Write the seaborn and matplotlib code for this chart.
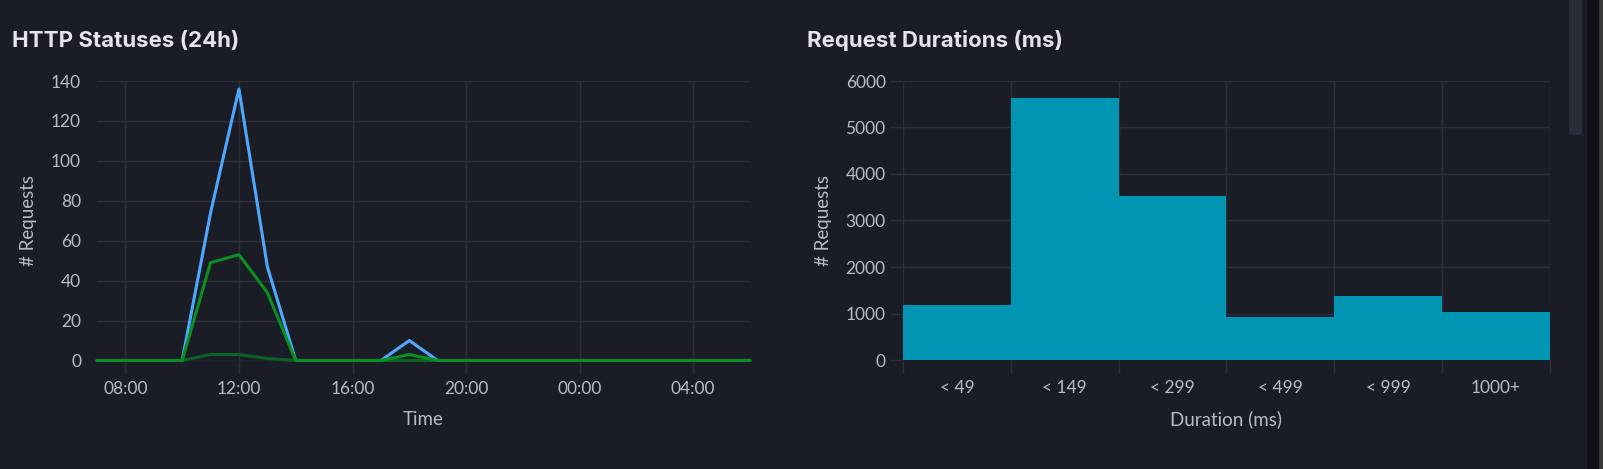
import numpy as np
import pandas as pd
import matplotlib
matplotlib.use("Agg")
import matplotlib.pyplot as plt
import seaborn as sns
from matplotlib.patches import FancyBboxPatch, Rectangle

# ---------------- data ----------------
hours = ["07:00", "08:00", "09:00", "10:00", "11:00", "12:00", "13:00", "14:00",
         "15:00", "16:00", "17:00", "18:00", "19:00", "20:00", "21:00", "22:00",
         "23:00", "00:00", "01:00", "02:00", "03:00", "04:00", "05:00", "06:00"]
total_requests = [0, 0, 0, 0, 74, 136, 47, 0, 0, 0, 0, 10, 0, 0, 0, 0, 0, 0, 0, 0, 0, 0, 0, 0]
status_2xx = [0, 0, 0, 0, 49, 53, 34, 0, 0, 0, 0, 3, 0, 0, 0, 0, 0, 0, 0, 0, 0, 0, 0, 0]
status_4xx = [0, 0, 0, 0, 3, 3, 1, 0, 0, 0, 0, 0, 0, 0, 0, 0, 0, 0, 0, 0, 0, 0, 0, 0]
time_tick_labels = ["08:00", "12:00", "16:00", "20:00", "00:00", "04:00"]

duration_bins = ["< 49", "< 149", "< 299", "< 499", "< 999", "1000+"]
duration_counts = [1180, 5640, 3530, 920, 1380, 1030]

# ---------------- style ----------------
BG = "#1b1d26"
GRID = "#2c2f3b"
TICK_TXT = "#b9bcc6"
TITLE_TXT = "#e4e5ec"
BLUE = "#4fa8ff"
GREEN = "#0a9020"
DKGREEN = "#0c6424"
BAR = "#0095b2"

sns.set_theme(style="dark")
plt.rcParams["font.family"] = ["Lato", "DejaVu Sans"]

fig = plt.figure(figsize=(16.03, 4.69), dpi=100, facecolor=BG)

ax1 = fig.add_axes([97 / 1603, 108.5 / 469, 653 / 1603, 279.5 / 469])
ax2 = fig.add_axes([903 / 1603, 109 / 469, 647 / 1603, 279 / 469])

for ax in (ax1, ax2):
    ax.set_facecolor(BG)
    for s in ax.spines.values():
        s.set_visible(False)
    ax.set_axisbelow(True)

# ---------------- left: line chart ----------------
x_idx = list(range(len(hours)))
df = pd.DataFrame({
    "x": x_idx * 3,
    "count": total_requests + status_4xx + status_2xx,
    "series": ["total"] * len(hours) + ["4xx"] * len(hours) + ["2xx"] * len(hours),
})
sns.lineplot(data=df, x="x", y="count", hue="series",
             hue_order=["total", "4xx", "2xx"],
             palette={"total": BLUE, "4xx": DKGREEN, "2xx": GREEN},
             linewidth=2.2, legend=False, ax=ax1, clip_on=False)

ax1.set_xlim(0, len(hours) - 1)
ax1.set_ylim(0, 140)
tick_pos = [hours.index(t) for t in time_tick_labels]
ax1.set_xticks(tick_pos)
ax1.set_xticklabels(time_tick_labels)
ax1.set_yticks(range(0, 141, 20))
ax1.grid(True, color=GRID, linewidth=1)
ax1.tick_params(axis="x", length=9.5, width=1, color=GRID, direction="out",
                pad=5, labelsize=12.5, labelcolor=TICK_TXT, bottom=True)
ax1.tick_params(axis="y", length=0, pad=11.5, labelsize=12.5, labelcolor=TICK_TXT)
ax1.set_xlabel("Time", color=TICK_TXT, fontsize=13.5, labelpad=10)
ax1.set_ylabel("# Requests", color=TICK_TXT, fontsize=13.5, labelpad=10)

# ---------------- right: bar chart ----------------
dfb = pd.DataFrame({"bin": duration_bins, "count": duration_counts})
sns.barplot(data=dfb, x="bin", y="count", order=duration_bins, color=BAR,
            saturation=1, width=1.0, linewidth=0, ax=ax2)
ax2.set_xlim(-0.5, len(duration_bins) - 0.5)
ax2.set_ylim(0, 6000)
ax2.set_yticks(range(0, 6001, 1000))
ax2.set_xticks(np.arange(-0.5, len(duration_bins), 1.0), minor=True)
ax2.grid(True, which="minor", axis="x", color=GRID, linewidth=1)
ax2.grid(True, which="major", axis="y", color=GRID, linewidth=1)
ax2.grid(False, which="major", axis="x")
ax2.tick_params(axis="x", which="major", length=0, pad=14.5, labelsize=12.5,
                labelcolor=TICK_TXT)
ax2.tick_params(axis="x", which="minor", length=9.5, width=1, color=GRID,
                direction="out", bottom=True)
ax2.tick_params(axis="y", length=9.5, width=1, color=GRID, direction="out",
                left=True, pad=3, labelsize=12.5, labelcolor=TICK_TXT)
ax2.set_xlabel("Duration (ms)", color=TICK_TXT, fontsize=13.5, labelpad=10)
ax2.set_ylabel("# Requests", color=TICK_TXT, fontsize=13.5, labelpad=10)

# ---------------- titles ----------------
fig.text(12 / 1603, 1 - 47 / 469, "HTTP Statuses (24h)", color=TITLE_TXT,
         fontsize=16, fontweight="bold", family=["Inter", "DejaVu Sans"],
         ha="left", va="baseline")
fig.text(807 / 1603, 1 - 47 / 469, "Request Durations (ms)", color=TITLE_TXT,
         fontsize=16, fontweight="bold", family=["Inter", "DejaVu Sans"],
         ha="left", va="baseline")

# ---------------- scrollbar decoration ----------------
fig.patches.append(Rectangle((1587 / 1603, 0), 12 / 1603, 1,
                             transform=fig.transFigure, facecolor="#111219",
                             edgecolor="none", zorder=0))
fig.patches.append(Rectangle((1599 / 1603, 0), 4 / 1603, 1,
                             transform=fig.transFigure, facecolor="#383838",
                             edgecolor="none", zorder=0))
fig.patches.append(FancyBboxPatch((1569 / 1603, 1 - 135 / 469), 13 / 1603, 160 / 469,
                                  boxstyle="round,pad=0,rounding_size=0.004",
                                  transform=fig.transFigure, facecolor="#2b2e3a",
                                  edgecolor="none", zorder=0,
                                  mutation_aspect=469 / 1603 * 3.4))

fig.savefig("out.png", dpi=100, facecolor=BG)
